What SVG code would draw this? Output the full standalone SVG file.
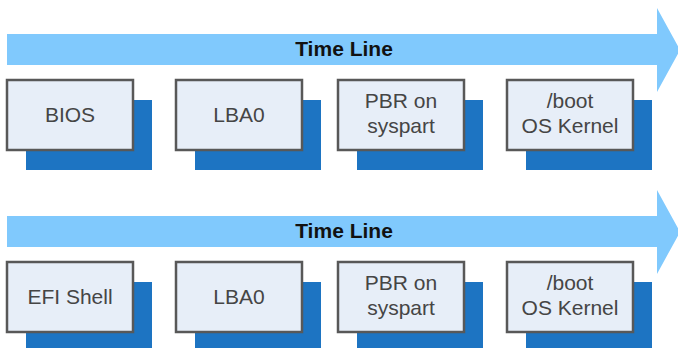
<svg xmlns="http://www.w3.org/2000/svg" width="678" height="348" viewBox="0 0 678 348">
<style>
.arrow{fill:#80c9fd}
.shadow{fill:#1d74c2}
.box{fill:#e7eef8;stroke:#585858;stroke-width:2.5}
.tl{font-family:"Liberation Sans",Arial,sans-serif;font-weight:bold;font-size:21px;fill:#111;text-anchor:middle}
.lbl{font-family:"Liberation Sans",Arial,sans-serif;font-size:21px;fill:#454545;text-anchor:middle}
</style>
<rect width="678" height="348" fill="#ffffff"/>
<g id="timeline1">
<polygon class="arrow" points="7,34 657,34 657,8 680,50 657,92 657,65 7,65"/>
<text class="tl" x="344" y="56">Time Line</text>
</g>
<g id="bios">
<rect class="shadow" x="26" y="100" width="126" height="70"/>
<rect class="box" x="7" y="80" width="126" height="70"/>
<text class="lbl" x="70" y="122">BIOS</text>
</g>
<g id="lba0-1">
<rect class="shadow" x="195" y="100" width="126" height="70"/>
<rect class="box" x="176" y="80" width="126" height="70"/>
<text class="lbl" x="239" y="122">LBA0</text>
</g>
<g id="pbr-1">
<rect class="shadow" x="357" y="100" width="126" height="70"/>
<rect class="box" x="338" y="80" width="126" height="70"/>
<text class="lbl" x="401" y="108">PBR on</text>
<text class="lbl" x="401" y="133">syspart</text>
</g>
<g id="boot-1">
<rect class="shadow" x="526" y="100" width="126" height="70"/>
<rect class="box" x="507" y="80" width="126" height="70"/>
<text class="lbl" x="570" y="108">/boot</text>
<text class="lbl" x="570" y="133">OS Kernel</text>
</g>
<g id="timeline2">
<polygon class="arrow" points="7,216 657,216 657,190 680,232 657,274 657,247 7,247"/>
<text class="tl" x="344" y="238">Time Line</text>
</g>
<g id="efi">
<rect class="shadow" x="26" y="282" width="126" height="70"/>
<rect class="box" x="7" y="262" width="126" height="70"/>
<text class="lbl" x="70" y="304">EFI Shell</text>
</g>
<g id="lba0-2">
<rect class="shadow" x="195" y="282" width="126" height="70"/>
<rect class="box" x="176" y="262" width="126" height="70"/>
<text class="lbl" x="239" y="304">LBA0</text>
</g>
<g id="pbr-2">
<rect class="shadow" x="357" y="282" width="126" height="70"/>
<rect class="box" x="338" y="262" width="126" height="70"/>
<text class="lbl" x="401" y="290">PBR on</text>
<text class="lbl" x="401" y="315">syspart</text>
</g>
<g id="boot-2">
<rect class="shadow" x="526" y="282" width="126" height="70"/>
<rect class="box" x="507" y="262" width="126" height="70"/>
<text class="lbl" x="570" y="290">/boot</text>
<text class="lbl" x="570" y="315">OS Kernel</text>
</g>
<g id="connectors"></g>
</svg>
